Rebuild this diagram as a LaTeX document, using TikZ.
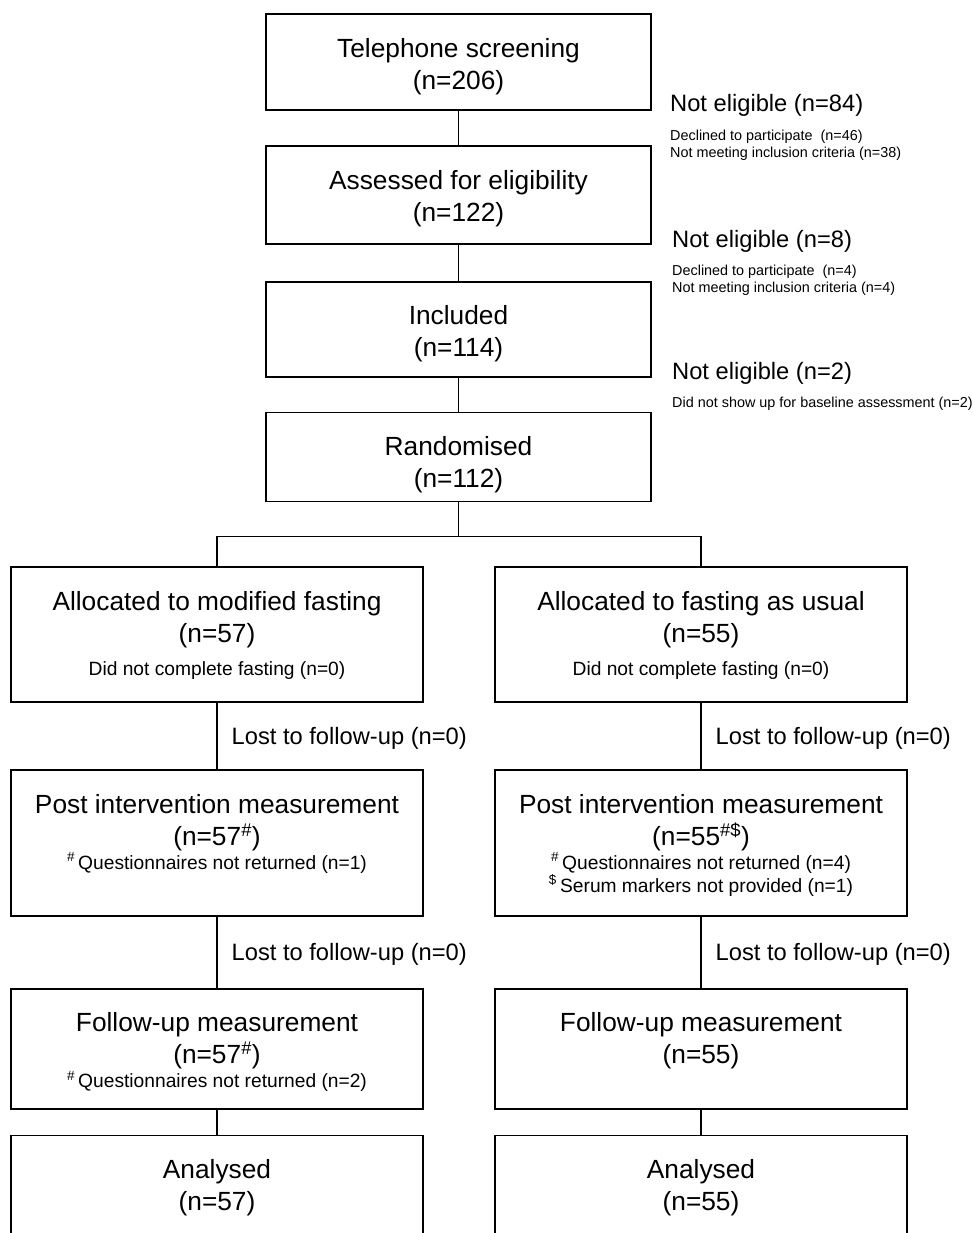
\documentclass[tikz,border=0pt]{standalone}
\usepackage{fontspec}
\setmainfont{Liberation Sans}
\usetikzlibrary{positioning}

\newcommand{\bigsize}{\fontsize{26.3}{32}\selectfont}
\newcommand{\smallsize}{\fontsize{19.2}{23}\selectfont}
\newcommand{\midsize}{\fontsize{23.7}{28}\selectfont}
\newcommand{\tinysize}{\fontsize{14.4}{17}\selectfont}

\begin{document}
\begin{tikzpicture}[x=1pt,y=1pt,
                box/.style={draw,line width=1.8pt,inner sep=0pt},
                top box/.style={box,minimum width=385pt},
                arm box/.style={box,minimum width=412pt},
                txt/.style={anchor=north,align=center,inner sep=0pt,font=\bigsize,yshift=-25pt},
                note/.style={anchor=west,inner sep=0pt,font=\midsize},
                detail/.style={anchor=west,align=left,inner sep=0pt,font=\tinysize},
                lost/.style={right=14pt,yshift=-2pt,inner sep=0pt,font=\midsize},
                link/.style={line width=1.3pt}]

  \useasboundingbox (0,0) rectangle (973,-1233);
  \clip (0,0) rectangle (973,-1233);

  % central column
  \node[top box,minimum height=96pt] (tel) at (458.5,-62) {};
  \node[top box,minimum height=98pt] (elig) [below=34pt of tel] {};
  \node[top box,minimum height=95pt] (incl) [below=36pt of elig] {};
  \node[top box,minimum height=89pt] (rand) [below=34pt of incl] {};

  \node[txt] (telT) at (tel.north) {Telephone screening\\(n=206)};
  \node[txt] (eligT) at (elig.north) {Assessed for eligibility\\(n=122)};
  \node[txt] (inclT) at (incl.north) {Included\\(n=114)};
  \node[txt] (randT) at (rand.north) {Randomised\\(n=112)};

  % exclusions
  \node[note] (out1) at (670,-105) {Not eligible (n=84)};
  \node[detail] (why1) at (670,-145.5) {Declined to participate\ \ (n=46)\\Not meeting inclusion criteria (n=38)};
  \node[note] (out2) at (672,-241) {Not eligible (n=8)};
  \node[detail] (why2) at (672,-280.5) {Declined to participate\ \ (n=4)\\Not meeting inclusion criteria (n=4)};
  \node[note] (out3) at (672,-373) {Not eligible (n=2)};
  \node[detail] (why3) at (672,-404) {Did not show up for baseline assessment (n=2)};

  % two arms
  \node[arm box,minimum height=135pt] (allocM) at (217,-634.5) {};
  \node[arm box,minimum height=135pt] (allocU) at (701,-634.5) {};
  \node[arm box,minimum height=146pt] (postM) [below=66pt of allocM] {};
  \node[arm box,minimum height=146pt] (postU) [below=66pt of allocU] {};
  \node[arm box,minimum height=120pt] (follM) [below=71pt of postM] {};
  \node[arm box,minimum height=120pt] (follU) [below=71pt of postU] {};
  \node[arm box,minimum height=102pt] (anaM) [below=25pt of follM] {};
  \node[arm box,minimum height=102pt] (anaU) [below=25pt of follU] {};

  \node[txt] (allocMT) at (allocM.north) {Allocated to modified fasting\\(n=57)\\[1pt]{\smallsize Did not complete fasting (n=0)}};
  \node[txt] (allocUT) at (allocU.north) {Allocated to fasting as usual\\(n=55)\\[1pt]{\smallsize Did not complete fasting (n=0)}};
  \node[txt] (postMT) at (postM.north) {Post intervention measurement\\(n=57\textsuperscript{\#})\\[-8pt]{\smallsize\textsuperscript{\#}\,Questionnaires not returned (n=1)}};
  \node[txt] (postUT) at (postU.north) {Post intervention measurement\\(n=55\textsuperscript{\#\$})\\[-8pt]{\smallsize\textsuperscript{\#}\,Questionnaires not returned (n=4)}\\[-9pt]{\smallsize\textsuperscript{\$}\,Serum markers not provided (n=1)}};
  \node[txt] (follMT) at (follM.north) {Follow-up measurement\\(n=57\textsuperscript{\#})\\[-8pt]{\smallsize\textsuperscript{\#}\,Questionnaires not returned (n=2)}};
  \node[txt] (follUT) at (follU.north) {Follow-up measurement\\(n=55)};
  \node[txt] (anaMT) at (anaM.north) {Analysed\\(n=57)};
  \node[txt] (anaUT) at (anaU.north) {Analysed\\(n=55)};

  % connectors
  \draw[link] (tel) -- (elig);
  \draw[link] (elig) -- (incl);
  \draw[link] (incl) -- (rand);
  \draw[link] (rand.south) -- ++(0,-34) coordinate (fork);
  \draw[link] (allocM.north) |- (fork) -| (allocU.north);

  \draw[link] (allocM) -- node[lost] {Lost to follow-up (n=0)} (postM);
  \draw[link] (allocU) -- node[lost] {Lost to follow-up (n=0)} (postU);
  \draw[link] (postM) -- node[lost] {Lost to follow-up (n=0)} (follM);
  \draw[link] (postU) -- node[lost] {Lost to follow-up (n=0)} (follU);
  \draw[link] (follM) -- (anaM);
  \draw[link] (follU) -- (anaU);

\end{tikzpicture}
\end{document}
